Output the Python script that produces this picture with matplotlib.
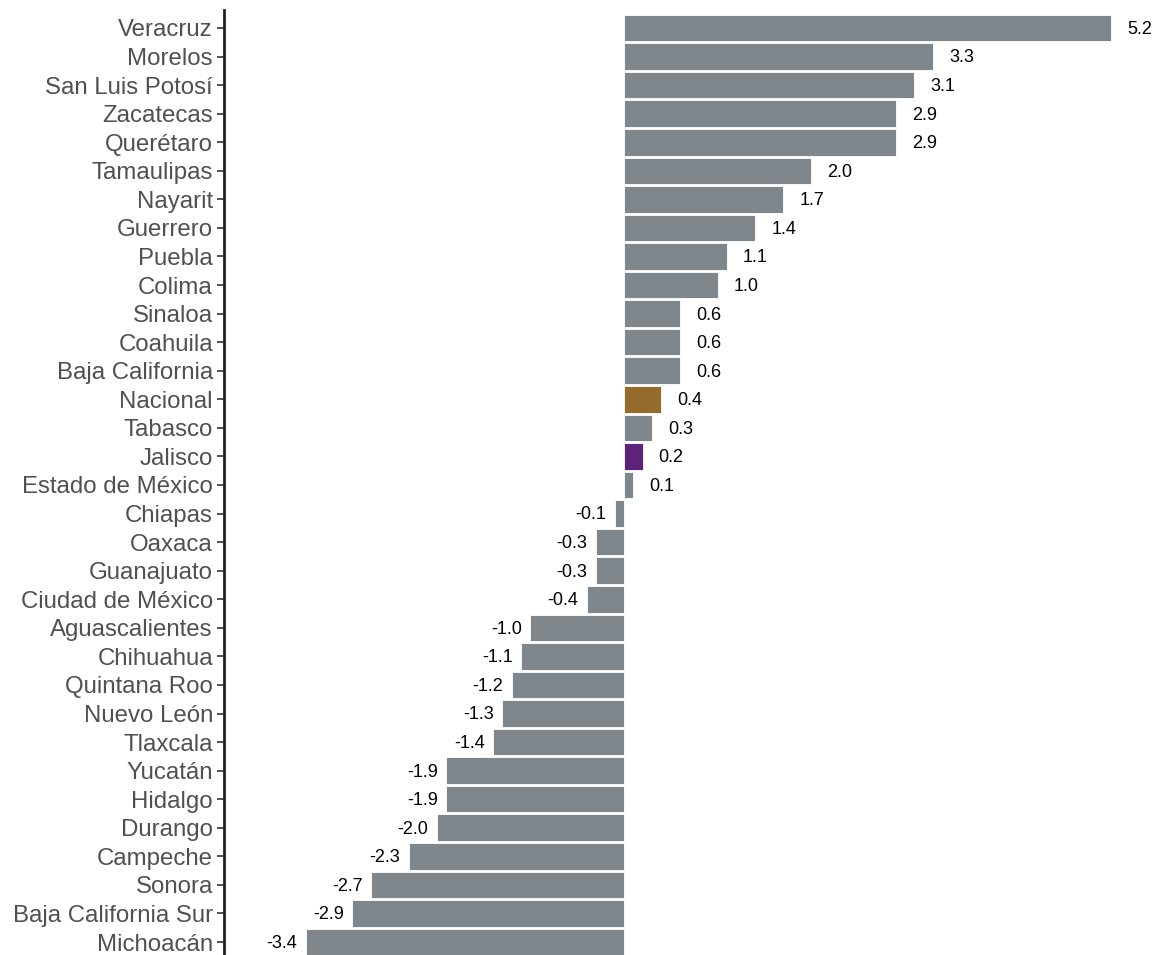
import matplotlib.pyplot as plt

# Estados y variación (de arriba hacia abajo)
estados = ['Veracruz', 'Morelos', 'San Luis Potosí', 'Zacatecas', 'Querétaro',
           'Tamaulipas', 'Nayarit', 'Guerrero', 'Puebla', 'Colima', 'Sinaloa',
           'Coahuila', 'Baja California', 'Nacional', 'Tabasco', 'Jalisco',
           'Estado de México', 'Chiapas', 'Oaxaca', 'Guanajuato',
           'Ciudad de México', 'Aguascalientes', 'Chihuahua', 'Quintana Roo',
           'Nuevo León', 'Tlaxcala', 'Yucatán', 'Hidalgo', 'Durango', 'Campeche',
           'Sonora', 'Baja California Sur', 'Michoacán']
valores = [5.2, 3.3, 3.1, 2.9, 2.9, 2.0, 1.7, 1.4, 1.1, 1.0, 0.6, 0.6, 0.6,
           0.4, 0.3, 0.2, 0.1, -0.1, -0.3, -0.3, -0.4, -1.0, -1.1, -1.2, -1.3,
           -1.4, -1.9, -1.9, -2.0, -2.3, -2.7, -2.9, -3.4]

# colores por estado
gris = '#7f878c'
colores_especiales = {'Nacional': '#956a2b', 'Jalisco': '#5c2378'}
colores = [colores_especiales.get(e, gris) for e in estados]

plt.rcParams['font.family'] = ['Liberation Sans', 'DejaVu Sans']

fig = plt.figure(figsize=(11.58, 9.55), dpi=100)
ax = fig.add_axes([224 / 1158, 0, 1 - 224 / 1158, 1 - 10 / 955])

n = len(estados)
ypos = [n - 1 - i for i in range(n)]
ax.barh(ypos, valores, height=0.93, color=colores, edgecolor='white', linewidth=0.6)

# etiquetas de valor
for y, v in zip(ypos, valores):
    if v >= 0:
        ax.annotate(f'{v:.1f}', (v, y), xytext=(11.5, -1), textcoords='offset points',
                    ha='left', va='center', fontsize=13, color='black')
    else:
        ax.annotate(f'{v:.1f}', (v, y), xytext=(-6, -1), textcoords='offset points',
                    ha='right', va='center', fontsize=13, color='black')

ax.set_yticks(ypos)
ax.set_yticklabels(estados, fontsize=17.3, color='#505050')
ax.set_xlim(-4.27, 5.70)
ax.set_ylim(-0.455, n - 1 + 0.63)
ax.set_xticks([])

for s in ['top', 'right', 'bottom']:
    ax.spines[s].set_visible(False)
ax.spines['left'].set_linewidth(2)
ax.spines['left'].set_color('#222222')
ax.tick_params(axis='y', length=5, width=1.2, color='#333333', pad=3)

fig.savefig('out.png', dpi=100)
